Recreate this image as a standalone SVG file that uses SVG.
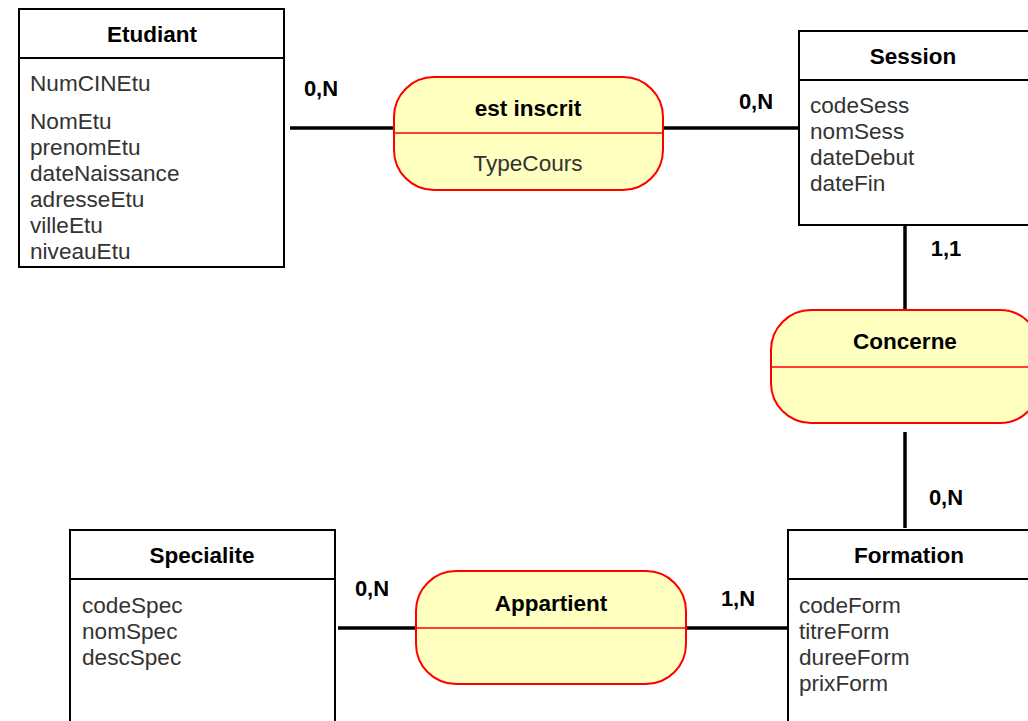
<svg xmlns="http://www.w3.org/2000/svg" width="1028" height="721" viewBox="0 0 1028 721">
<style>
.ent{fill:#ffffff;stroke:#000000;stroke-width:2}
.rel{fill:#ffffc0;stroke:#ff0000;stroke-width:2}
.div{stroke:#ff0000;stroke-width:1.5}
.hl{stroke:#000000;stroke-width:2}
.ttl{font-family:"Liberation Sans",Arial,sans-serif;font-size:22.5px;font-weight:bold;fill:#000000;text-anchor:middle}
.att{font-family:"Liberation Sans",Arial,sans-serif;font-size:22.6px;fill:#333333}
.attc{font-family:"Liberation Sans",Arial,sans-serif;font-size:22.6px;fill:#333333;text-anchor:middle}
.card{font-family:"Liberation Sans",Arial,sans-serif;font-size:22px;font-weight:bold;fill:#000000;text-anchor:middle}
.cn{stroke:#000000;stroke-width:3.5;fill:none}
</style>
<rect width="1028" height="721" fill="#ffffff"/>
<g id="connectors">
<line class="cn" x1="290" y1="128" x2="394" y2="128"/>
<line class="cn" x1="663" y1="128" x2="801" y2="128"/>
<line class="cn" x1="905" y1="223" x2="905" y2="310"/>
<line class="cn" x1="905" y1="432" x2="905" y2="528"/>
<line class="cn" x1="338" y1="628" x2="416" y2="628"/>
<line class="cn" x1="686" y1="628" x2="788" y2="628"/>
<text class="card" x="321" y="96">0,N</text>
<text class="card" x="756" y="109">0,N</text>
<text class="card" x="946" y="256">1,1</text>
<text class="card" x="946" y="505">0,N</text>
<text class="card" x="372" y="596">0,N</text>
<text class="card" x="738" y="606">1,N</text>
</g>
<g id="etudiant">
<rect class="ent" x="19" y="9" width="265" height="258"/>
<line class="hl" x1="19" y1="58" x2="284" y2="58"/>
<text class="ttl" x="152" y="42">Etudiant</text>
<text class="att" x="30" y="91">NumCINEtu</text>
<text class="att" x="30" y="129">NomEtu</text>
<text class="att" x="30" y="155">prenomEtu</text>
<text class="att" x="30" y="181">dateNaissance</text>
<text class="att" x="30" y="207">adresseEtu</text>
<text class="att" x="30" y="233">villeEtu</text>
<text class="att" x="30" y="259">niveauEtu</text>
</g>
<g id="session">
<rect class="ent" x="799" y="31" width="266" height="194"/>
<line class="hl" x1="799" y1="80" x2="1065" y2="80"/>
<text class="ttl" x="913" y="64">Session</text>
<text class="att" x="810" y="113">codeSess</text>
<text class="att" x="810" y="139">nomSess</text>
<text class="att" x="810" y="165">dateDebut</text>
<text class="att" x="810" y="191">dateFin</text>
</g>
<g id="est-inscrit">
<rect class="rel" x="394" y="77" width="269" height="113" rx="40" ry="40"/>
<line class="div" x1="394" y1="133" x2="663" y2="133"/>
<text class="ttl" x="528" y="116">est inscrit</text>
<text class="attc" x="528" y="171">TypeCours</text>
</g>
<g id="concerne">
<rect class="rel" x="771" y="310" width="269" height="113" rx="40" ry="40"/>
<line class="div" x1="771" y1="367" x2="1040" y2="367"/>
<text class="ttl" x="905" y="349">Concerne</text>
</g>
<g id="specialite">
<rect class="ent" x="70" y="530" width="265" height="220"/>
<line class="hl" x1="70" y1="579" x2="335" y2="579"/>
<text class="ttl" x="202" y="563">Specialite</text>
<text class="att" x="82" y="613">codeSpec</text>
<text class="att" x="82" y="639">nomSpec</text>
<text class="att" x="82" y="665">descSpec</text>
</g>
<g id="appartient">
<rect class="rel" x="416" y="571" width="270" height="113" rx="40" ry="40"/>
<line class="div" x1="416" y1="628" x2="686" y2="628"/>
<text class="ttl" x="551" y="611">Appartient</text>
</g>
<g id="formation">
<rect class="ent" x="788" y="530" width="266" height="220"/>
<line class="hl" x1="788" y1="579" x2="1054" y2="579"/>
<text class="ttl" x="909" y="563">Formation</text>
<text class="att" x="799" y="613">codeForm</text>
<text class="att" x="799" y="639">titreForm</text>
<text class="att" x="799" y="665">dureeForm</text>
<text class="att" x="799" y="691">prixForm</text>
</g>
</svg>
